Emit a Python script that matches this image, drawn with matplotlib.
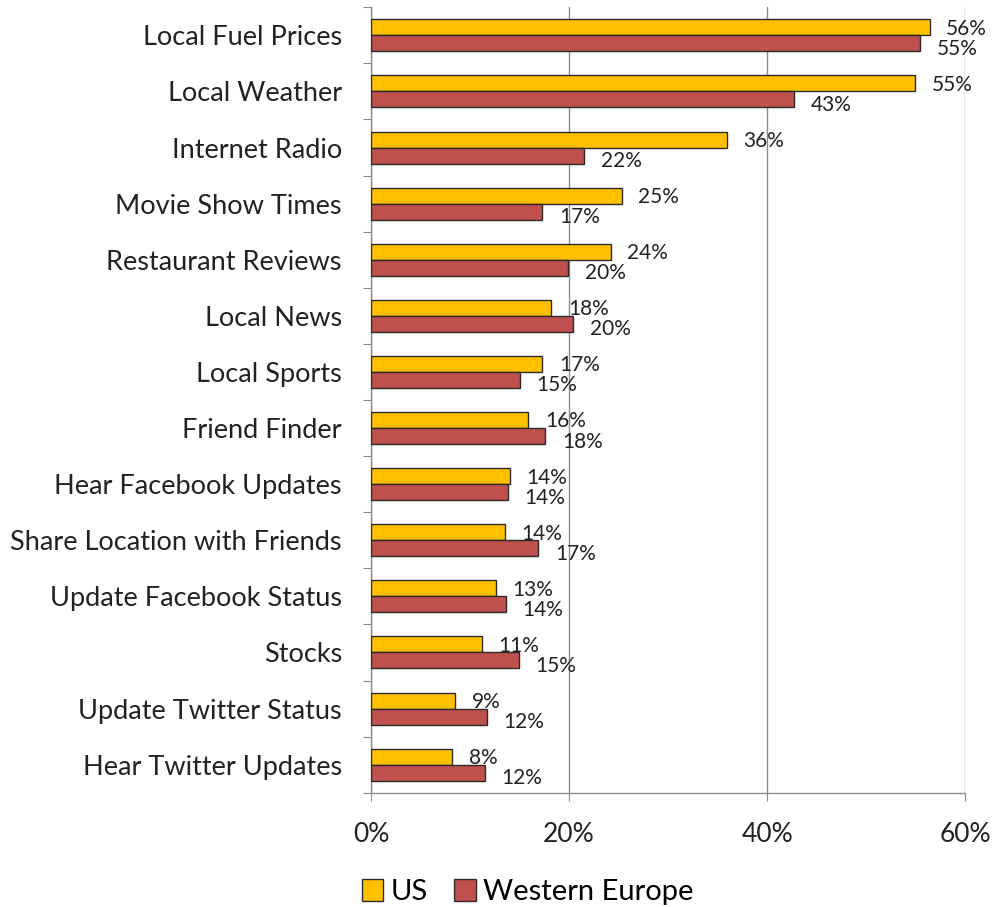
import numpy as np
import matplotlib.pyplot as plt
from matplotlib.ticker import PercentFormatter

plt.rcParams['font.family'] = ['Lato', 'DejaVu Sans']

# -----------------------------------------------------------
# data
# -----------------------------------------------------------
categories = [
    "Local Fuel Prices", "Local Weather", "Internet Radio", "Movie Show Times",
    "Restaurant Reviews", "Local News", "Local Sports", "Friend Finder",
    "Hear Facebook Updates", "Share Location with Friends",
    "Update Facebook Status", "Stocks", "Update Twitter Status",
    "Hear Twitter Updates",
]
us_vals = [56.4, 54.9, 35.9, 25.3, 24.2, 18.2, 17.3, 15.9, 14.0, 13.5, 12.6, 11.2, 8.5, 8.2]
we_vals = [55.4, 42.7, 21.5, 17.3, 19.9, 20.4, 15.0, 17.6, 13.8, 16.9, 13.6, 14.9, 11.7, 11.5]
us_labels = ["56%", "55%", "36%", "25%", "24%", "18%", "17%", "16%", "14%", "14%", "13%", "11%", "9%", "8%"]
we_labels = ["55%", "43%", "22%", "17%", "20%", "20%", "15%", "18%", "14%", "17%", "14%", "15%", "12%", "12%"]

US_COLOR = "#FFC000"
WE_COLOR = "#C0504D"
EDGE = "#2b2b2b"
GRID = "#8c8c8c"
TXT = "#222222"

fig = plt.figure(figsize=(9.92, 9.07), dpi=100)
ax = fig.add_axes([0.374, 0.126, 0.599, 0.866])

n = len(categories)
y = np.arange(n)[::-1] + 0.5
h = 0.285

ax.barh(y + h / 2, us_vals, height=h, color=US_COLOR, edgecolor=EDGE, linewidth=1.0, label="US", zorder=3)
ax.barh(y - h / 2, we_vals, height=h, color=WE_COLOR, edgecolor=EDGE, linewidth=1.0, label="Western Europe", zorder=3)

# value labels, Excel style
for yi, v, lab in zip(y + h / 2, us_vals, us_labels):
    ax.annotate(lab, (v, yi), xytext=(12, -1), textcoords="offset points",
                va="center", ha="left", fontsize=15, color=TXT, zorder=4)
for yi, v, lab in zip(y - h / 2, we_vals, we_labels):
    ax.annotate(lab, (v, yi), xytext=(12, -4), textcoords="offset points",
                va="center", ha="left", fontsize=15, color=TXT, zorder=4)

ax.set_xlim(0, 60)
ax.set_ylim(0, n)
ax.set_xticks([0, 20, 40, 60])
ax.xaxis.set_major_formatter(PercentFormatter(decimals=0))
ax.set_yticks(np.arange(n + 1))
ax.set_yticklabels([])
ax.set_yticks(y, minor=True)
ax.set_yticklabels(categories, minor=True, fontsize=19.5, color=TXT)
ax.tick_params(axis="y", which="minor", length=0, pad=21)
ax.tick_params(axis="y", which="major", length=6, color=GRID, direction="out")
ax.tick_params(axis="x", length=6, color=GRID, direction="out", labelsize=19,
               labelcolor=TXT, pad=15)

ax.grid(axis="x", color=GRID, linewidth=1.0, zorder=0)
for s in ["top", "right"]:
    ax.spines[s].set_visible(False)
for s in ["left", "bottom"]:
    ax.spines[s].set_color(GRID)
    ax.spines[s].set_linewidth(1.0)

fig.legend(loc="lower left", bbox_to_anchor=(0.338, -0.027), ncol=2, frameon=False,
           fontsize=21, handlelength=0.75, handleheight=0.8, handletextpad=0.25,
           columnspacing=0.9)

fig.savefig("out.png", dpi=100)
